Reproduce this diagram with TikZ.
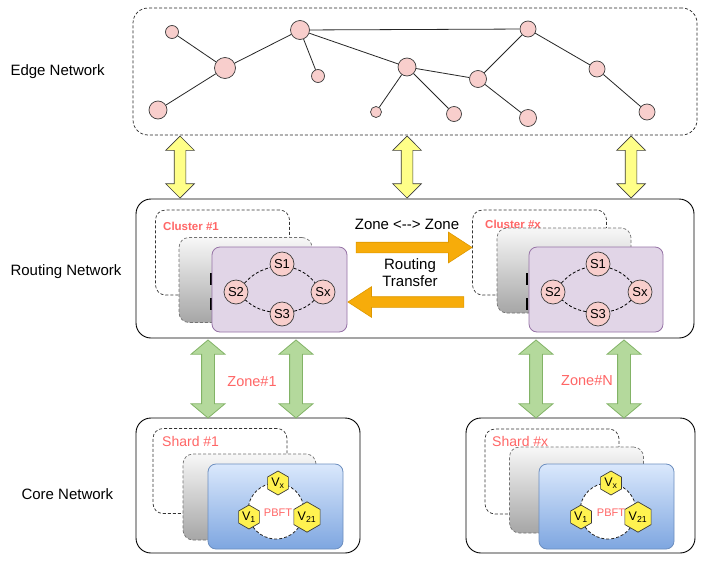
\documentclass[tikz,border=0pt]{standalone}
\usepackage{fontspec}
\setmainfont{Liberation Sans}
\usepackage{xcolor}
\usepackage{tikz}
\usetikzlibrary{shapes.geometric, shapes.arrows, arrows.meta, positioning, calc}
\definecolor{NetPink}{RGB}{248, 206, 204}
\definecolor{NetBorder}{RGB}{60, 60, 60}
\definecolor{NetRed}{RGB}{255, 102, 102}
\definecolor{NetPurple}{RGB}{225, 213, 231}
\definecolor{NetPurpleLine}{RGB}{150, 115, 166}
\definecolor{NetBlueTop}{RGB}{218, 232, 252}
\definecolor{NetBlueBot}{RGB}{126, 166, 224}
\definecolor{NetBlueLine}{RGB}{108, 142, 191}
\definecolor{NetYellow}{RGB}{255, 255, 136}
\definecolor{NetHex}{RGB}{255, 242, 80}
\definecolor{NetGreen}{RGB}{180, 217, 156}
\definecolor{NetGreenLine}{RGB}{130, 179, 102}
\definecolor{NetOrange}{RGB}{247, 172, 10}
\definecolor{NetOrangeLine}{RGB}{222, 152, 0}

\tikzset{
  netdash/.style={dash pattern=on 3pt off 2pt},
  edgenode/.style={circle, fill=NetPink, draw=NetBorder, line width=0.7pt, inner sep=0pt},
  srvnode/.style={circle, fill=NetPink, draw=NetBorder, line width=0.7pt, inner sep=0pt,
    minimum size=24pt, font=\fontsize{13}{13}\selectfont},
  valnode/.style={regular polygon, regular polygon sides=6, shape border rotate=30,
    fill=NetHex, draw=NetBorder, line width=0.7pt, inner sep=0pt, minimum size=24pt,
    font=\fontsize{12.5}{12.5}\selectfont},
  layerbox/.style={draw=black, line width=0.9pt, rounded corners=15pt},
  groupbox/.style={draw=black!80, netdash, line width=0.7pt, rounded corners=10pt,
    minimum width=134pt, minimum height=85pt},
  shadebox/.style={draw=black!55, netdash, line width=0.7pt, rounded corners=10pt,
    top color=black!3, bottom color=black!35, minimum width=134pt, minimum height=85pt},
  clusterbox/.style={fill=NetPurple, draw=NetPurpleLine, line width=0.8pt, rounded corners=8pt,
    minimum width=135pt, minimum height=85pt},
  shardbox/.style={top color=NetBlueTop, bottom color=NetBlueBot, draw=NetBlueLine,
    line width=0.8pt, rounded corners=8pt, minimum width=135pt, minimum height=85pt},
  redlabel/.style={text=NetRed, inner sep=0pt},
  yarrow/.style={double arrow, fill=NetYellow, draw=NetBorder, line width=0.7pt,
    inner xsep=0pt, inner ysep=5.5pt, minimum width=10pt, double arrow head extend=8.5pt,
    minimum height=62pt, rotate=90},
  garrow/.style={double arrow, fill=NetGreen, draw=NetGreenLine, line width=0.8pt,
    inner xsep=0pt, inner ysep=6pt, minimum width=10pt, double arrow head extend=10.5pt,
    double arrow tip angle=100, minimum height=78pt, rotate=90},
  oarrow/.style={single arrow, fill=NetOrange, draw=NetOrangeLine, line width=0.6pt,
    inner xsep=0pt, inner ysep=5pt, minimum width=10pt, single arrow head extend=10pt,
    single arrow tip angle=66, minimum height=116pt}
}

\begin{document}
\begin{tikzpicture}[x=1pt, y=-1pt]
  \useasboundingbox[fill=white] (0,0) rectangle (708,570);

  % layer titles
  \node[anchor=west, font=\fontsize{15}{18}\selectfont] (lbledge) at (7,72) {Edge Network};
  \node[anchor=west, font=\fontsize{15}{18}\selectfont] (lblrouting) at (7,272) {Routing Network};
  \node[anchor=west, font=\fontsize{15}{18}\selectfont] (lblcore) at (18,494) {Core Network};

  % edge network
  \node[draw=black!85, netdash, line width=0.7pt, rounded corners=15pt,
    minimum width=564pt, minimum height=127pt] (edge) at (415,71.5) {};
  \node[edgenode, minimum size=13pt] (e1) at (172,32) {};
  \node[edgenode, minimum size=19pt] (e2) at (300,30) {};
  \node[edgenode, minimum size=16pt] (e3) at (528,29) {};
  \node[edgenode, minimum size=21pt] (e4) at (225,68) {};
  \node[edgenode, minimum size=13pt] (e5) at (318,76) {};
  \node[edgenode, minimum size=18pt] (e6) at (407,67) {};
  \node[edgenode, minimum size=17pt] (e7) at (478,79) {};
  \node[edgenode, minimum size=16pt] (e8) at (597,69) {};
  \node[edgenode, minimum size=18pt] (e9) at (158,110) {};
  \node[edgenode, minimum size=11pt] (e10) at (376,112) {};
  \node[edgenode, minimum size=15pt] (e11) at (454,114) {};
  \node[edgenode, minimum size=17pt] (e12) at (528,118) {};
  \node[edgenode, minimum size=16pt] (e13) at (647,112) {};
  \foreach \a/\b in {e1/e4, e4/e2, e4/e9, e2/e5, e2/e6, e2/e3, e6/e7,
                     e6/e10, e6/e11, e3/e7, e3/e8, e7/e12, e8/e13}
    \draw[line width=0.8pt, black!85] (\a) -- (\b);

  % routing network
  \node[layerbox, minimum width=558pt, minimum height=139pt] (routing) at (415,268.5) {};

  % cluster #1
  \node[groupbox] (grpa) at (222.5,252.5) {};
  \node[redlabel, anchor=west, font=\fontsize{11.5}{12}\selectfont\bfseries] (grpalbl) at (163,226) {Cluster \#1};
  \node[shadebox, minimum width=133pt] (shda) at (245.5,280) {};
  \draw[line width=1.3pt] (211,273) -- (211,285) (211,298) -- (211,310);
  \node[clusterbox] (clsa) at (279.5,289.5) {};
  \node[srvnode] (sa1) at (282,264) {S1};
  \node[srvnode] (sa2) at (236,292) {S2};
  \node[srvnode] (sax) at (323,292) {Sx};
  \node[srvnode] (sa3) at (282,314) {S3};
  \draw[netdash, line width=0.8pt] (sa1) to[bend left=15] (sax);
  \draw[netdash, line width=0.8pt] (sax) to[bend left=15] (sa3);
  \draw[netdash, line width=0.8pt] (sa3) to[bend left=15] (sa2);
  \draw[netdash, line width=0.8pt] (sa2) to[bend left=15] (sa1);

  % cluster #x
  \node[groupbox] (grpb) at (539.5,252.5) {};
  \node[redlabel, anchor=west, font=\fontsize{11.5}{12}\selectfont\bfseries] (grpblbl) at (485,224) {Cluster \#x};
  \node[shadebox] (shdb) at (564,270.5) {};
  \draw[line width=1.3pt] (527,273) -- (527,285) (527,298) -- (527,310);
  \node[clusterbox, minimum width=134pt] (clsb) at (596,289.5) {};
  \node[srvnode] (sb1) at (598,264) {S1};
  \node[srvnode] (sb2) at (553,292) {S2};
  \node[srvnode] (sbx) at (640,292) {Sx};
  \node[srvnode] (sb3) at (598,314) {S3};
  \draw[netdash, line width=0.8pt] (sb1) to[bend left=15] (sbx);
  \draw[netdash, line width=0.8pt] (sbx) to[bend left=15] (sb3);
  \draw[netdash, line width=0.8pt] (sb3) to[bend left=15] (sb2);
  \draw[netdash, line width=0.8pt] (sb2) to[bend left=15] (sb1);

  % zone to zone transfer
  \coordinate (ota) at (352,247.5);
  \coordinate (otb) at (468,247.5);
  \coordinate (ora) at (352,302);
  \coordinate (orb) at (468,302);
  \path (ota) -- (otb) node[oarrow, midway] (fwd) {};
  \path (orb) -- (ora) node[oarrow, midway, shape border rotate=180] (back) {};
  \node[font=\fontsize{15}{18}\selectfont] (zonezone) at (407,224) {Zone <{-}{-}> Zone};
  \node[font=\fontsize{15}{17}\selectfont, align=center] (transfer) at (410,272.5) {Routing\\Transfer};

  % edge <-> routing
  \foreach \i/\x in {1/180, 2/407, 3/631} {
    \coordinate (up\i) at (\x,136);
    \coordinate (dn\i) at (\x,198);
    \path (up\i) -- (dn\i) node[yarrow, midway] (ya\i) {};
  }

  % core network
  \node[layerbox, minimum width=224pt, minimum height=135pt] (corea) at (248,485.5) {};
  \node[layerbox, minimum width=229pt, minimum height=135pt] (coreb) at (580.5,485.5) {};

  % shard #1
  \node[groupbox] (shrda) at (220,471) {};
  \node[redlabel, anchor=west, font=\fontsize{14}{16}\selectfont] (shrdalbl) at (162,441) {Shard \#1};
  \node[shadebox, minimum width=133pt, minimum height=86pt] (gsha) at (249.5,497) {};
  \node[shardbox] (bsha) at (275.5,506.5) {};
  \node[circle, draw=black!85, netdash, line width=0.8pt, fill=white, minimum size=56pt] (ringa) at (276,511) {};
  \node[redlabel, font=\fontsize{11}{12}\selectfont] (pbfta) at (278,513) {PBFT};
  \node[valnode] (vax) at (278,483) {V\textsubscript{x}};
  \node[valnode] (va1) at (249,517) {V\textsubscript{1}};
  \node[valnode] (va21) at (307,517) {V\textsubscript{21}};

  % shard #x
  \node[groupbox] (shrdb) at (552,471.5) {};
  \node[redlabel, anchor=west, font=\fontsize{14}{16}\selectfont] (shrdblbl) at (492,441) {Shard \#x};
  \node[shadebox, minimum height=86pt] (gshb) at (576.5,490) {};
  \node[shardbox] (bshb) at (606.5,506.5) {};
  \node[circle, draw=black!85, netdash, line width=0.8pt, fill=white, minimum size=56pt] (ringb) at (608,511) {};
  \node[redlabel, font=\fontsize{11}{12}\selectfont] (pbftb) at (611,513) {PBFT};
  \node[valnode] (vbx) at (611,483) {V\textsubscript{x}};
  \node[valnode] (vb1) at (581,517) {V\textsubscript{1}};
  \node[valnode] (vb21) at (638,517) {V\textsubscript{21}};

  % routing <-> core
  \foreach \i/\x in {1/208, 2/296, 3/536, 4/624} {
    \coordinate (zt\i) at (\x,340);
    \coordinate (zb\i) at (\x,418);
    \path (zt\i) -- (zb\i) node[garrow, midway] (ga\i) {};
  }
  \node[redlabel, font=\fontsize{14.5}{16}\selectfont] (zonea) at (252,382) {Zone\#1};
  \node[redlabel, font=\fontsize{14.5}{16}\selectfont] (zoneb) at (587,381) {Zone\#N};
\end{tikzpicture}
\end{document}
